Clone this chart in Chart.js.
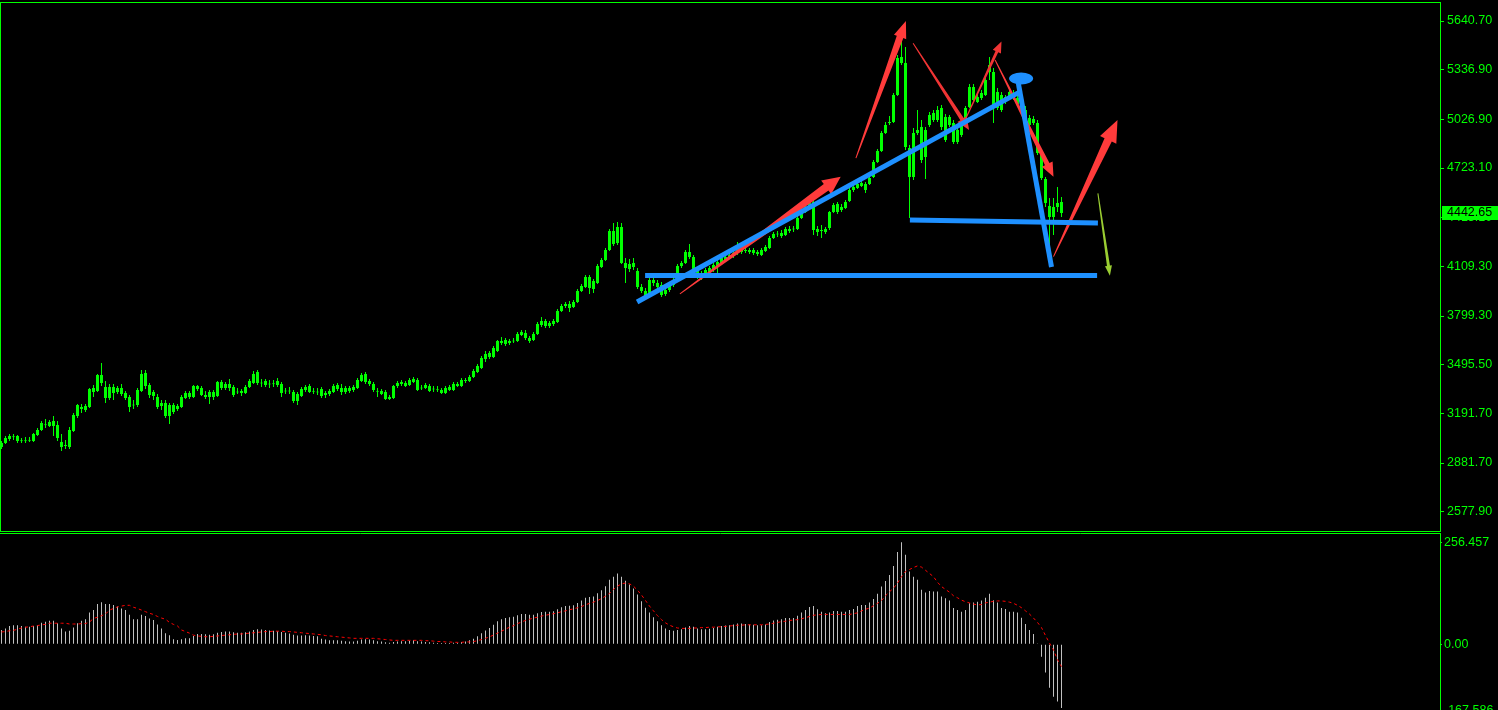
<!DOCTYPE html>
<html>
<head>
<meta charset="utf-8">
<title>Index H4</title>
<script src="https://cdn.jsdelivr.net/npm/chart.js@4.4.1/dist/chart.umd.min.js"></script>
<style>
  html, body { margin: 0; padding: 0; background: #000; overflow: hidden; }
  #priceChart { position: absolute; left: 0; top: 0; }
  #macdChart { position: absolute; left: 0; top: 533px; }
</style>
</head>
<body>
<canvas id="priceChart" width="1498" height="533"></canvas>
<canvas id="macdChart" width="1498" height="178"></canvas>
<script>
// --- DATA: CANDLES (one value per bar) ---
const opens = [
  2982, 3007, 3032, 3044, 3050, 3019, 3017, 3020, 3019, 3057,
  3088, 3120, 3113, 3144, 3119, 2982, 2988, 2982, 3082, 3175,
  3231, 3213, 3231, 3325, 3331, 3431, 3356, 3288, 3356, 3325,
  3313, 3319, 3294, 3244, 3244, 3331, 3444, 3369, 3300, 3294,
  3238, 3256, 3175, 3244, 3219, 3231, 3288, 3319, 3294, 3344,
  3350, 3294, 3294, 3325, 3300, 3388, 3350, 3375, 3356, 3325,
  3319, 3319, 3356, 3381, 3450, 3381, 3394, 3375, 3373, 3394,
  3375, 3331, 3328, 3325, 3269, 3300, 3338, 3363, 3330, 3325,
  3344, 3306, 3313, 3325, 3369, 3350, 3325, 3331, 3338, 3350,
  3394, 3437, 3394, 3375, 3330, 3313, 3325, 3281, 3288, 3363,
  3375, 3381, 3369, 3388, 3400, 3350, 3350, 3363, 3344, 3339,
  3338, 3319, 3338, 3338, 3363, 3363, 3394, 3394, 3419, 3450,
  3475, 3562, 3544, 3544, 3581, 3631, 3650, 3631, 3640, 3643,
  3681, 3693, 3662, 3650, 3687, 3743, 3768, 3737, 3750, 3762,
  3831, 3862, 3874, 3856, 3887, 3956, 3981, 4043, 3968, 4005,
  4105, 4149, 4211, 4330, 4255, 4355, 4130, 4093, 4130, 4080,
  3981, 3956, 3937, 4024, 4005, 3993, 3937, 3962, 3993, 4030,
  4112, 4130, 4199, 4168, 4087, 4049, 4068, 4074, 4087, 4112,
  4130, 4149, 4162, 4174, 4199, 4218, 4205, 4199, 4211, 4186,
  4180, 4205, 4224, 4286, 4308, 4299, 4305, 4330, 4340, 4343,
  4411, 4449, 4480, 4511, 4324, 4336, 4324, 4349, 4449, 4499,
  4461, 4474, 4517, 4586, 4598, 4611, 4623, 4623, 4667, 4761,
  4829, 4942, 5004, 5010, 5179, 5416, 5379, 4848, 4667, 4942,
  4979, 4792, 4992, 5023, 5023, 5098, 5042, 4992, 5004, 4885,
  4929, 4992, 5104, 5229, 5135, 5160, 5179, 5322, 5322, 5098,
  5179, 5148, 5166, 5191, 5160, 5123, 5085, 5035, 5029, 5004,
  4817, 4655, 4486, 4417, 4480, 4511
];
const highs = [
  3019, 3050, 3063, 3063, 3057, 3038, 3044, 3044, 3069, 3100,
  3144, 3157, 3150, 3175, 3144, 3063, 3026, 3107, 3194, 3250,
  3250, 3250, 3350, 3369, 3437, 3506, 3394, 3375, 3375, 3363,
  3375, 3331, 3306, 3275, 3350, 3462, 3462, 3381, 3338, 3313,
  3275, 3275, 3256, 3256, 3250, 3306, 3331, 3331, 3369, 3369,
  3363, 3331, 3338, 3338, 3394, 3400, 3388, 3406, 3369, 3350,
  3344, 3369, 3406, 3456, 3462, 3406, 3406, 3400, 3400, 3412,
  3388, 3350, 3356, 3338, 3325, 3356, 3369, 3375, 3350, 3350,
  3356, 3331, 3344, 3375, 3381, 3375, 3363, 3363, 3369, 3412,
  3444, 3450, 3406, 3388, 3350, 3344, 3338, 3306, 3369, 3394,
  3400, 3394, 3412, 3419, 3412, 3369, 3381, 3375, 3363, 3362,
  3350, 3363, 3369, 3388, 3388, 3412, 3412, 3431, 3469, 3500,
  3550, 3581, 3581, 3612, 3650, 3668, 3662, 3656, 3662, 3700,
  3712, 3712, 3675, 3700, 3762, 3793, 3781, 3768, 3781, 3843,
  3874, 3887, 3893, 3899, 3968, 3999, 4055, 4055, 4030, 4124,
  4161, 4224, 4342, 4380, 4386, 4380, 4162, 4155, 4162, 4099,
  3999, 3974, 4037, 4043, 4024, 4012, 3974, 4005, 4043, 4124,
  4143, 4211, 4249, 4180, 4099, 4080, 4099, 4112, 4130, 4149,
  4174, 4180, 4193, 4211, 4261, 4230, 4230, 4224, 4224, 4211,
  4224, 4243, 4299, 4324, 4330, 4336, 4355, 4361, 4361, 4424,
  4461, 4492, 4523, 4523, 4361, 4368, 4355, 4455, 4505, 4511,
  4498, 4523, 4598, 4617, 4636, 4642, 4636, 4673, 4773, 4842,
  4954, 5010, 5048, 5191, 5429, 5522, 5478, 4867, 4973, 5085,
  5023, 4979, 5073, 5085, 5110, 5116, 5060, 5054, 5023, 4973,
  5010, 5110, 5248, 5248, 5191, 5210, 5285, 5416, 5348, 5222,
  5198, 5179, 5210, 5210, 5185, 5148, 5110, 5054, 5048, 5023,
  4836, 4667, 4536, 4536, 4605, 4542
];
const lows = [
  2969, 3001, 3019, 3026, 3007, 3007, 3007, 3013, 3013, 3050,
  3082, 3100, 3107, 3050, 3019, 2957, 2969, 2969, 3075, 3163,
  3194, 3200, 3225, 3294, 3325, 3363, 3256, 3275, 3275, 3313,
  3300, 3275, 3200, 3219, 3231, 3325, 3344, 3288, 3275, 3219,
  3213, 3163, 3125, 3188, 3206, 3225, 3281, 3281, 3288, 3331,
  3300, 3281, 3250, 3275, 3294, 3338, 3338, 3331, 3294, 3313,
  3300, 3313, 3350, 3375, 3369, 3356, 3356, 3350, 3356, 3356,
  3294, 3313, 3313, 3256, 3244, 3294, 3325, 3319, 3313, 3306,
  3288, 3288, 3300, 3319, 3331, 3306, 3313, 3319, 3325, 3344,
  3388, 3375, 3363, 3325, 3294, 3306, 3275, 3275, 3281, 3350,
  3363, 3356, 3363, 3381, 3331, 3338, 3344, 3325, 3325, 3325,
  3313, 3313, 3331, 3331, 3356, 3356, 3381, 3388, 3412, 3444,
  3469, 3512, 3531, 3537, 3575, 3618, 3612, 3618, 3631, 3637,
  3675, 3650, 3631, 3643, 3681, 3731, 3725, 3725, 3737, 3756,
  3824, 3849, 3824, 3849, 3881, 3949, 3974, 3937, 3943, 3999,
  4099, 4143, 4205, 4236, 4243, 4124, 4005, 4074, 4087, 3968,
  3943, 3912, 3924, 3987, 3968, 3918, 3924, 3949, 3980, 4018,
  4099, 4124, 4155, 4074, 4030, 4024, 4055, 4062, 4074, 4062,
  4124, 4137, 4155, 4161, 4180, 4186, 4193, 4186, 4180, 4174,
  4174, 4199, 4218, 4280, 4293, 4286, 4299, 4318, 4324, 4336,
  4405, 4442, 4467, 4305, 4299, 4286, 4311, 4336, 4442, 4436,
  4449, 4467, 4511, 4573, 4592, 4605, 4567, 4617, 4661, 4754,
  4823, 4935, 4992, 5004, 5173, 5366, 4836, 4411, 4648, 4929,
  4754, 4655, 4979, 5010, 5010, 4960, 4885, 4979, 4873, 4873,
  4916, 4979, 5098, 5135, 5129, 5148, 5173, 5272, 5004, 5085,
  5073, 5123, 5154, 5148, 5110, 5055, 5023, 4979, 4992, 4804,
  4648, 4480, 4112, 4305, 4449, 4417
];
const closes = [
  3007, 3038, 3050, 3042, 3019, 3017, 3019, 3025, 3063, 3088,
  3132, 3118, 3138, 3113, 3038, 3013, 2990, 3088, 3182, 3244,
  3219, 3238, 3344, 3350, 3431, 3381, 3288, 3356, 3319, 3350,
  3350, 3288, 3231, 3240, 3338, 3437, 3363, 3306, 3325, 3231,
  3256, 3175, 3244, 3200, 3238, 3294, 3319, 3294, 3363, 3363,
  3306, 3306, 3325, 3294, 3388, 3350, 3375, 3350, 3306, 3322,
  3331, 3356, 3394, 3437, 3381, 3378, 3369, 3372, 3376, 3369,
  3319, 3328, 3332, 3269, 3313, 3344, 3356, 3325, 3327, 3322,
  3300, 3319, 3331, 3363, 3344, 3325, 3350, 3350, 3356, 3400,
  3431, 3388, 3375, 3338, 3326, 3331, 3281, 3294, 3363, 3381,
  3388, 3363, 3400, 3406, 3338, 3347, 3369, 3331, 3341, 3336,
  3319, 3350, 3356, 3375, 3375, 3400, 3397, 3419, 3456, 3487,
  3537, 3531, 3569, 3600, 3643, 3643, 3625, 3643, 3644, 3687,
  3700, 3662, 3643, 3687, 3750, 3768, 3737, 3756, 3768, 3831,
  3862, 3874, 3849, 3887, 3956, 3987, 4043, 3974, 4018, 4112,
  4149, 4211, 4330, 4249, 4355, 4130, 4099, 4124, 4105, 3981,
  3956, 3924, 4024, 4005, 3981, 3931, 3962, 3993, 4024, 4112,
  4130, 4199, 4168, 4087, 4049, 4068, 4087, 4099, 4118, 4137,
  4162, 4168, 4180, 4193, 4218, 4199, 4211, 4211, 4193, 4199,
  4211, 4230, 4286, 4311, 4314, 4318, 4343, 4343, 4344, 4411,
  4449, 4480, 4505, 4336, 4343, 4330, 4343, 4449, 4492, 4449,
  4480, 4511, 4586, 4605, 4623, 4630, 4586, 4661, 4761, 4829,
  4942, 4992, 5010, 5179, 5410, 5379, 4854, 4667, 4942, 4960,
  4773, 4960, 5054, 5067, 5085, 4979, 4898, 5042, 4885, 4960,
  4992, 5098, 5229, 5148, 5166, 5191, 5272, 5366, 5098, 5198,
  5085, 5166, 5198, 5160, 5123, 5074, 5035, 4992, 5004, 4817,
  4661, 4505, 4417, 4480, 4505, 4442.65
];

// --- DATA: MACD histogram and signal ---
const macdHist = [
  36, 40, 46, 48, 48, 46, 44, 44, 46, 48,
  54, 57, 59, 59, 53, 40, 32, 34, 42, 53,
  59, 63, 80, 86, 101, 106, 101, 101, 99, 95,
  90, 86, 74, 63, 63, 74, 71, 65, 61, 50,
  40, 28, 23, 13, 11, 13, 15, 15, 21, 26,
  26, 25, 24, 25, 29, 31, 32, 32, 30, 29,
  29, 30, 32, 36, 38, 37, 36, 35, 34, 33,
  31, 29, 27, 24, 22, 22, 23, 22, 21, 20,
  14, 12, 10, 10, 10, 9, 8, 7, 7, 9,
  12, 13, 12, 10, 8, 7, 5, 4, 6, 7,
  8, 8, 9, 10, 8, 7, 6, 5, 4, 3,
  3, 3, 3, 4, 4, 6, 7, 10, 14, 20,
  28, 35, 41, 49, 58, 63, 66, 68, 69, 73,
  76, 76, 74, 74, 78, 81, 82, 82, 83, 88,
  93, 96, 97, 98, 104, 110, 117, 119, 120, 128,
  136, 146, 162, 170, 178, 170, 160, 150, 140, 125,
  108, 92, 80, 68, 58, 48, 40, 36, 34, 36,
  38, 42, 46, 44, 40, 38, 38, 39, 41, 44,
  46, 47, 48, 50, 52, 52, 51, 50, 49, 48,
  48, 50, 56, 60, 62, 63, 66, 66, 66, 72,
  80, 86, 94, 96, 88, 82, 78, 80, 84, 84,
  82, 82, 86, 89, 96, 99, 99, 105, 114, 127,
  145, 159, 174, 197, 232, 256.457, 225, 183, 170, 162,
  137, 130, 134, 133, 133, 120, 116, 110, 91, 86,
  82, 86, 103, 105, 107, 110, 117, 127, 111, 105,
  91, 89, 82, 82, 80, 67, 51, 36, 26, 1,
  -31, -71, -109, -132, -144, -160
];
const macdSignal = [
  31, 32, 34, 35, 38, 41, 43, 44, 46, 47,
  49, 50, 53, 53, 53, 53, 53, 51, 51, 51,
  52, 52, 56, 65, 68, 72, 76, 86, 90, 94,
  96, 98, 98, 93, 90, 86, 82, 78, 75, 70,
  66, 63, 55, 50, 46, 36, 32, 28, 23, 21,
  20, 19, 19, 20, 21, 22, 23, 24, 25, 26,
  26, 27, 28, 29, 30, 31, 32, 32, 33, 33,
  33, 32, 32, 31, 30, 29, 28, 27, 26, 25,
  24, 22, 21, 20, 19, 18, 17, 16, 15, 15,
  15, 15, 15, 15, 14, 13, 12, 11, 10, 10,
  10, 10, 10, 10, 10, 10, 9, 9, 8, 7,
  7, 6, 6, 5, 5, 5, 6, 6, 7, 9,
  12, 15, 19, 23, 28, 33, 38, 43, 47, 52,
  56, 60, 63, 66, 68, 71, 73, 75, 77, 79,
  82, 84, 87, 89, 92, 95, 99, 103, 106, 110,
  115, 121, 128, 138, 146, 152, 154, 152, 146, 136,
  124, 110, 96, 84, 72, 62, 54, 48, 44, 41,
  40, 40, 40, 41, 41, 42, 42, 43, 43, 44,
  44, 45, 46, 47, 48, 48, 49, 49, 49, 49,
  49, 50, 51, 53, 55, 57, 58, 60, 61, 62,
  64, 67, 70, 73, 74, 75, 75, 75, 75, 75,
  75, 75, 75, 77, 79, 84, 88, 91, 97, 103,
  110, 122, 132, 141, 154, 170, 183, 188, 193, 197,
  194, 186, 178, 170, 156, 145, 138, 131, 122, 117,
  111, 107, 104, 101, 99, 100, 104, 106, 108, 109,
  109, 108, 106, 103, 98, 92, 84, 76, 66, 55,
  42, 22, 3, -14, -39, -56
];

// --- AXIS TICKS ---
const priceTicks = [5640.70, 5336.90, 5026.90, 4723.10, 4413.10, 4109.30, 3799.30, 3495.50, 3191.70, 2881.70, 2577.90];
const macdTicks = [256.457, 0, -167.586];
const macdTickLabels = ['256.457', '0.00', '-167.586'];

// --- DRAWN OBJECTS (bar index, price) ---
const trendLines = [
  { from: [158.9, 3887], to: [254.6, 5198] },
  { from: [254.2, 5254], to: [262.5, 4105] },
  { from: [227.1, 4399], to: [274.1, 4380] },
  { from: [160.9, 4052], to: [273.9, 4052] }
];
const markerCenter = [254.9, 5282];
const arrows = [
  { from: [169.6, 3937], to: [209.8, 4669], shaft: 8, head: 17, len: 18, color: '#ff3b3b' },
  { from: [213.6, 4785], to: [226.1, 5641], shaft: 7, head: 13, len: 17, color: '#ff3b3b' },
  { from: [227.9, 5502], to: [241.9, 4960], shaft: 4, head: 11, len: 13, color: '#f03434' },
  { from: [240.9, 5023], to: [250.0, 5512], shaft: 3, head: 9, len: 11, color: '#f03434' },
  { from: [248.4, 5397], to: [263.0, 4669], shaft: 5, head: 12, len: 14, color: '#ff3b3b' },
  { from: [263.0, 4170], to: [279.0, 5023], shaft: 8, head: 18, len: 22, color: '#ff3b3b' },
  { from: [274.1, 4565], to: [277.1, 4051], shaft: 3, head: 7, len: 10, color: '#9acd32' }
];

// --- STYLE ---
const GREEN = '#00ff00';
const BLUE = '#1e90ff';
const AXIS_FONT = { family: 'Liberation Sans', size: 12.5 };
const X_MIN = -0.375;
const X_MAX = 359.625;

const idx = opens.map((_, i) => i);

function xScale() {
  return { type: 'linear', min: X_MIN, max: X_MAX, offset: false, display: false };
}

function rightAxis(s) {
  s.width = 58;
  s.paddingTop = 0;
  s.paddingBottom = 0;
}

function drawArrow(ctx, a, b, shaft, head, len, color) {
  const dx = b[0] - a[0], dy = b[1] - a[1];
  const L = Math.hypot(dx, dy);
  const ux = dx / L, uy = dy / L, nx = -uy, ny = ux;
  const bx = b[0] - ux * len, by = b[1] - uy * len;
  ctx.fillStyle = color;
  ctx.beginPath();
  ctx.moveTo(a[0] + nx * 0.5, a[1] + ny * 0.5);
  ctx.lineTo(bx + nx * shaft / 2, by + ny * shaft / 2);
  ctx.lineTo(bx + nx * head / 2, by + ny * head / 2);
  ctx.lineTo(b[0], b[1]);
  ctx.lineTo(bx - nx * head / 2, by - ny * head / 2);
  ctx.lineTo(bx - nx * shaft / 2, by - ny * shaft / 2);
  ctx.lineTo(a[0] - nx * 0.5, a[1] - ny * 0.5);
  ctx.closePath();
  ctx.fill();
}

// --- PLUGINS ---
const drawingsPlugin = {
  id: 'drawings',
  afterDatasetsDraw(chart) {
    const { ctx, chartArea, scales: { x, y } } = chart;
    const px = p => [x.getPixelForValue(p[0]), y.getPixelForValue(p[1])];
    ctx.save();
    ctx.beginPath();
    ctx.rect(chartArea.left, chartArea.top, chartArea.right - chartArea.left, chartArea.bottom - chartArea.top);
    ctx.clip();

    arrows.forEach(a => drawArrow(ctx, px(a.from), px(a.to), a.shaft, a.head, a.len, a.color));

    ctx.strokeStyle = BLUE;
    ctx.lineWidth = 5;
    ctx.lineCap = 'butt';
    trendLines.forEach(l => {
      const a = px(l.from), b = px(l.to);
      ctx.beginPath();
      ctx.moveTo(a[0], a[1]);
      ctx.lineTo(b[0], b[1]);
      ctx.stroke();
    });

    const c = px(markerCenter);
    ctx.fillStyle = BLUE;
    ctx.beginPath();
    ctx.ellipse(c[0], c[1], 12, 6, 0, 0, Math.PI * 2);
    ctx.fill();
    ctx.restore();
  },
  afterDraw(chart) {
    const { ctx, chartArea, scales: { y } } = chart;
    ctx.save();
    ctx.strokeStyle = GREEN;
    ctx.lineWidth = 1;
    ctx.strokeRect(chartArea.left + 0.5, chartArea.top + 0.5, chartArea.right - chartArea.left, chartArea.bottom - chartArea.top);

    // current price tag
    const last = closes[closes.length - 1];
    const yc = y.getPixelForValue(last);
    ctx.fillStyle = GREEN;
    ctx.fillRect(chartArea.right + 2, Math.round(yc) - 7, 56, 14);
    ctx.fillStyle = '#000';
    ctx.font = `${AXIS_FONT.size}px "${AXIS_FONT.family}"`;
    ctx.textBaseline = 'middle';
    ctx.textAlign = 'left';
    ctx.fillText(last.toFixed(2), chartArea.right + 7, yc);
    ctx.restore();
  }
};

const subFramePlugin = {
  id: 'subFrame',
  afterDraw(chart) {
    const { ctx, chartArea } = chart;
    ctx.save();
    ctx.strokeStyle = GREEN;
    ctx.lineWidth = 1;
    ctx.beginPath();
    ctx.moveTo(0, 0.5);
    ctx.lineTo(chartArea.right + 1, 0.5);
    ctx.moveTo(chartArea.right + 0.5, 0);
    ctx.lineTo(chartArea.right + 0.5, chart.height);
    ctx.stroke();
    ctx.restore();
  }
};

// --- PRICE CHART ---
new Chart(document.getElementById('priceChart'), {
  type: 'bar',
  data: {
    datasets: [
      {
        label: 'wick',
        data: idx.map(i => ({ x: i, y: [lows[i], highs[i]] })),
        backgroundColor: GREEN,
        borderWidth: 0,
        grouped: false,
        barThickness: 1,
        maxBarThickness: 1,
        inflateAmount: 0
      },
      {
        label: 'body',
        data: idx.map(i => ({ x: i, y: [opens[i], closes[i]] })),
        backgroundColor: idx.map(i => closes[i] >= opens[i] ? '#000000' : '#ffffff'),
        borderColor: GREEN,
        borderWidth: 1,
        borderSkipped: false,
        grouped: false,
        barThickness: 3,
        maxBarThickness: 3,
        minBarLength: 1,
        inflateAmount: 0
      }
    ]
  },
  options: {
    responsive: false,
    animation: false,
    events: [],
    layout: { padding: { top: 2, bottom: 2, left: 0, right: 0 } },
    plugins: { legend: { display: false }, tooltip: { enabled: false } },
    scales: {
      x: xScale(),
      y: {
        type: 'linear',
        position: 'right',
        min: 2457.4,
        max: 5759.3,
        stacked: false,
        afterFit: rightAxis,
        afterBuildTicks: s => { s.ticks = priceTicks.map(v => ({ value: v })); },
        grid: { drawOnChartArea: false, drawTicks: true, tickLength: 4, color: GREEN },
        border: { display: false },
        ticks: {
          autoSkip: false,
          color: GREEN,
          font: AXIS_FONT,
          padding: 3,
          callback: v => Number(v).toFixed(2)
        }
      }
    }
  },
  plugins: [drawingsPlugin]
});

// --- MACD CHART ---
new Chart(document.getElementById('macdChart'), {
  type: 'bar',
  data: {
    datasets: [
      {
        type: 'line',
        label: 'signal',
        data: idx.map(i => ({ x: i, y: macdSignal[i] })),
        borderColor: '#ff0000',
        borderWidth: 1,
        borderDash: [3, 3],
        pointRadius: 0,
        tension: 0
      },
      {
        label: 'macd',
        data: idx.map(i => ({ x: i, y: macdHist[i] })),
        backgroundColor: '#c0c0c0',
        borderWidth: 0,
        grouped: false,
        barThickness: 1,
        maxBarThickness: 1,
        inflateAmount: 0
      }
    ]
  },
  options: {
    responsive: false,
    animation: false,
    events: [],
    layout: { padding: { top: 1, bottom: 0, left: 0, right: 0 } },
    plugins: { legend: { display: false }, tooltip: { enabled: false } },
    scales: {
      x: xScale(),
      y: {
        type: 'linear',
        position: 'right',
        min: -167.586,
        max: 277.2,
        afterFit: rightAxis,
        afterBuildTicks: s => { s.ticks = macdTicks.map(v => ({ value: v })); },
        grid: { drawOnChartArea: false, drawTicks: true, tickLength: 2, color: GREEN },
        border: { display: false },
        ticks: {
          autoSkip: false,
          color: GREEN,
          font: AXIS_FONT,
          padding: 2,
          callback: (v, i) => macdTickLabels[i]
        }
      }
    }
  },
  plugins: [subFramePlugin]
});
</script>
</body>
</html>
